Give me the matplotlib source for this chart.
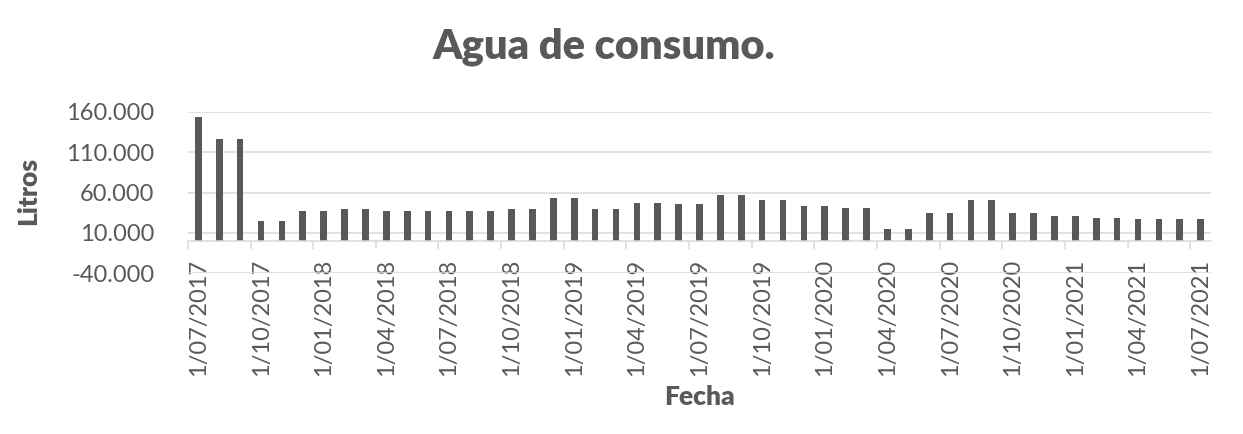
import matplotlib
matplotlib.use("Agg")
import matplotlib.pyplot as plt
from matplotlib.ticker import FixedLocator, FuncFormatter
import pandas as pd

# monthly readings, July 2017 .. July 2021
months = pd.date_range("2017-07-01", "2021-07-01", freq="MS")
litros = [
    153800, 125800, 125800, 24500, 24500, 37700, 37700, 39400, 39400, 37700,
    37700, 37700, 37700, 36500, 36500, 39400, 39400, 53800, 53800, 39400,
    39400, 46400, 46400, 45600, 45600, 56300, 56300, 50500, 50500, 42700,
    42700, 41400, 41400, 15400, 15400, 35200, 35200, 50500, 50500, 34400,
    34400, 31500, 31500, 28200, 28200, 27400, 27400, 27400, 27400,
]
y_ticks = [-40000, 10000, 60000, 110000, 160000]
date_labels = [f"{d.day}/{d.month:02d}/{d.year}" for d in months]

TXT = "#595959"
GRID = "#d9d9d9"
plt.rcParams["font.family"] = ["Lato", "DejaVu Sans"]

fig = plt.figure(figsize=(12.43, 4.34), dpi=100)
ax = fig.add_axes([0.1512, 0.3703, 0.8231, 0.3723])

x = list(range(len(litros)))
ax.bar(x, litros, width=0.32, color="#595959", zorder=3)

ax.set_xlim(-0.5, len(litros) - 0.5)
ax.set_ylim(y_ticks[0], y_ticks[-1])
ax.set_yticks(y_ticks)
ax.yaxis.set_major_formatter(FuncFormatter(lambda v, p: f"{v:,.0f}".replace(",", ".")))
ax.grid(axis="y", color=GRID, linewidth=1.1, zorder=0)
ax.tick_params(axis="y", length=0, pad=24, labelsize=17, labelcolor=TXT)

# tick marks between categories, labels centred on every third bar
ax.xaxis.set_major_locator(FixedLocator([i - 0.5 for i in range(0, len(litros), 3)]))
ax.xaxis.set_major_formatter(FuncFormatter(lambda v, p: ""))
ax.xaxis.set_minor_locator(FixedLocator(list(range(0, len(litros), 3))))
ax.set_xticklabels(date_labels[::3], minor=True)
ax.tick_params(axis="x", which="major", length=6, width=1.1, color=GRID)
ax.tick_params(axis="x", which="minor", length=0, pad=13, labelsize=17,
               labelcolor=TXT, labelrotation=90)
for lbl in ax.get_xticklabels(minor=True):
    lbl.set_verticalalignment("top")

for side in ("top", "right", "left"):
    ax.spines[side].set_visible(False)
ax.spines["bottom"].set_position(("data", 0))
ax.spines["bottom"].set_color(GRID)
ax.spines["bottom"].set_linewidth(1.1)
ax.spines["bottom"].set_zorder(4)

fig.text(0.486, 0.893, "Agua de consumo.", ha="center", va="center",
         fontsize=30, fontweight="heavy", color=TXT)
fig.text(0.0225, 0.56, "Litros", ha="center", va="center", rotation=90,
         fontsize=19, fontweight="heavy", color=TXT)
fig.text(0.563, 0.085, "Fecha", ha="center", va="center",
         fontsize=19, fontweight="heavy", color=TXT)

fig.savefig("out.png", dpi=100)
